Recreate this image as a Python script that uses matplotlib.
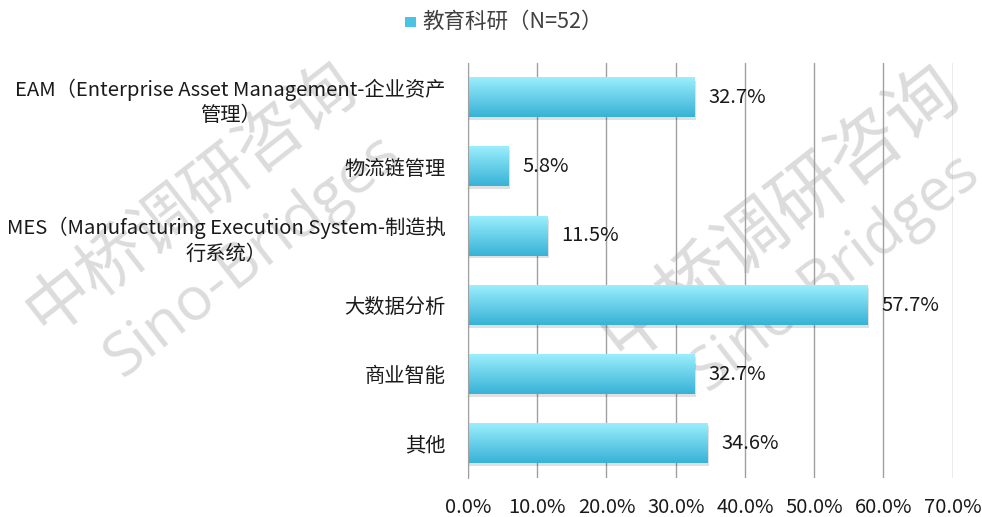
import matplotlib

matplotlib.use("Agg")
import matplotlib.pyplot as plt
import numpy as np
from matplotlib.colors import LinearSegmentedColormap
from matplotlib.patches import Rectangle

plt.rcParams["font.family"] = ["Noto Sans CJK SC", "DejaVu Sans"]

categories = [
    "EAM（Enterprise Asset Management-企业资产\n管理）",
    "物流链管理",
    "MES（Manufacturing Execution System-制造执\n行系统）",
    "大数据分析",
    "商业智能",
    "其他",
]
values = [32.7, 5.8, 11.5, 57.7, 32.7, 34.6]
series_name = "教育科研（N=52）"
xticks = [0, 10, 20, 30, 40, 50, 60, 70]

TOP_COLOR = "#9aeefd"
BOTTOM_COLOR = "#38b2d6"
TEXT = "#1a1a1a"
cmap = LinearSegmentedColormap.from_list("bar", [BOTTOM_COLOR, TOP_COLOR])
grad = np.linspace(0, 1, 100).reshape(-1, 1)

fig = plt.figure(figsize=(9.82, 5.17), dpi=100)

# watermark sits behind the axes
wm = dict(color="#dcdcdc", ha="center", va="center", zorder=-1)
wm_latin = ["Open Sans", "DejaVu Sans"]
fig.text(0.195, 0.617, "中桥调研咨询", fontsize=48, rotation=38, **wm)
fig.text(0.258, 0.505, "Sino-Bridges", fontsize=44, rotation=38, family=wm_latin, **wm)
fig.text(0.795, 0.588, "中桥调研咨询", fontsize=52, rotation=38, **wm)
fig.text(0.85, 0.475, "Sino-Bridges", fontsize=43, rotation=38, family=wm_latin, **wm)

ax = fig.add_axes([0.4766, 0.0754, 0.4939, 0.803])
ax.patch.set_alpha(0)

n = len(categories)
ypos = np.arange(n)
bar_h = 0.57

for y, v in zip(ypos, values):
    # soft shadow
    ax.add_patch(Rectangle((0, y - bar_h / 2 + 0.04), v + 0.25, bar_h,
                           facecolor="#000000", alpha=0.12, lw=0, zorder=2))
    ax.imshow(grad, cmap=cmap, aspect="auto", origin="lower",
              extent=(0, v, y + bar_h / 2, y - bar_h / 2), zorder=3)
    ax.text(v + 2.0, y, "{:.1f}%".format(v), va="center", ha="left",
            fontsize=14.5, color=TEXT, zorder=4)

ax.set_xlim(0, 70.05)
ax.set_ylim(n - 0.5, -0.5)

ax.set_xticks(xticks)
ax.set_xticklabels(["{:.1f}%".format(t) for t in xticks], fontsize=14.5, color=TEXT)
ax.set_yticks(ypos)
ax.set_yticklabels(categories, fontsize=14.6, color=TEXT, linespacing=1.3)
for lab in ax.get_yticklabels():
    lab.set_multialignment("center")
ax.tick_params(axis="both", length=0)
ax.tick_params(axis="y", pad=16)
ax.tick_params(axis="x", pad=14)

ax.grid(axis="x", color="#a0a0a0", lw=1.0, zorder=1)
ax.set_axisbelow(True)
for side in ["top", "right", "bottom"]:
    ax.spines[side].set_visible(False)
ax.spines["left"].set_color("#a0a0a0")
ax.spines["left"].set_zorder(5)

# legend
fig.patches.append(Rectangle((0.4124, 0.9478), 0.0112, 0.0193, transform=fig.transFigure,
                             facecolor="#4cc3e3", edgecolor="none"))
fig.text(0.4297, 0.957, series_name, fontsize=15.5, va="center", ha="left", color="#404040")

fig.savefig("out.png", dpi=100)
